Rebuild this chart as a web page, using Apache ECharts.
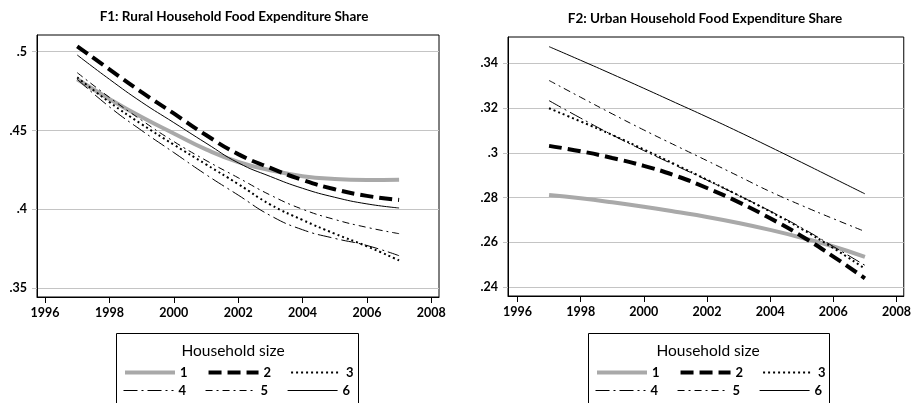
<!DOCTYPE html>
<html>
<head>
<meta charset="utf-8">
<script src="https://cdn.jsdelivr.net/npm/echarts@6/dist/echarts.min.js"></script>
<style>
  html, body { margin: 0; padding: 0; background: #fff; }
</style>
</head>
<body>
<div id="chart" style="width: 914px; height: 403px;"></div>
<script>
// survey years and axis ticks
const years = [1997, 1998, 1999, 2000, 2001, 2002, 2003, 2004, 2005, 2006, 2007]
const yearTicks = [1996, 1998, 2000, 2002, 2004, 2006, 2008]
const ruralTicks = [0.35, 0.4, 0.45, 0.5]
const urbanTicks = [0.24, 0.26, 0.28, 0.3, 0.32, 0.34]
const sizes = ['1', '2', '3', '4', '5', '6']

// F1: rural food expenditure share by household size
const rural1 = [0.4825, 0.4700, 0.4585, 0.4481, 0.4380, 0.4300, 0.4248, 0.4210, 0.4192, 0.4186, 0.4188]
const rural2 = [0.5034, 0.4888, 0.4743, 0.4608, 0.4471, 0.4350, 0.4262, 0.4186, 0.4127, 0.4085, 0.4059]
const rural3 = [0.4837, 0.4680, 0.4540, 0.4410, 0.4285, 0.4160, 0.4030, 0.3932, 0.3845, 0.3765, 0.3675]
const rural4 = [0.4825, 0.4650, 0.4500, 0.4360, 0.4220, 0.4090, 0.3960, 0.3870, 0.3815, 0.3770, 0.3705]
const rural5 = [0.4867, 0.4710, 0.4565, 0.4430, 0.4310, 0.4200, 0.4090, 0.4000, 0.3935, 0.3885, 0.3845]
const rural6 = [0.4979, 0.4825, 0.4680, 0.4550, 0.4420, 0.4295, 0.4208, 0.4133, 0.4076, 0.4034, 0.4008]

// F2: urban food expenditure share by household size
const urban1 = [0.2812, 0.2797, 0.2779, 0.2759, 0.2737, 0.2714, 0.2687, 0.2656, 0.2621, 0.2582, 0.2536]
const urban2 = [0.3031, 0.3007, 0.2977, 0.2942, 0.2898, 0.2843, 0.2780, 0.2708, 0.2628, 0.2537, 0.2440]
const urban3 = [0.3199, 0.3140, 0.3080, 0.3015, 0.2948, 0.2880, 0.2810, 0.2738, 0.2660, 0.2575, 0.2483]
const urban4 = [0.3233, 0.3155, 0.3080, 0.3010, 0.2944, 0.2878, 0.2810, 0.2740, 0.2665, 0.2582, 0.2498]
const urban5 = [0.3323, 0.3248, 0.3174, 0.3102, 0.3033, 0.2965, 0.2896, 0.2827, 0.2765, 0.2706, 0.2649]
const urban6 = [0.3474, 0.3413, 0.3351, 0.3288, 0.3224, 0.3160, 0.3094, 0.3026, 0.2957, 0.2887, 0.2817]

const ruralData = [rural1, rural2, rural3, rural4, rural5, rural6]
const urbanData = [urban1, urban2, urban3, urban4, urban5, urban6]

const FONT = "Lato, 'DejaVu Sans Condensed', sans-serif"

// line look for each household size
const lineStyles = {
  '1': { color: '#a9a9a9', width: 4, type: 'solid' },
  '2': { color: '#000', width: 4, type: [13, 6] },
  '3': { color: '#000', width: 2, type: [2, 3] },
  '4': { color: '#000', width: 1, type: [14, 4, 2, 4] },
  '5': { color: '#000', width: 1, type: [7, 4, 2, 4] },
  '6': { color: '#000', width: 1, type: 'solid' }
}

function makeXAxis (gridIndex, min, max) {
  return {
    type: 'value',
    gridIndex: gridIndex,
    min: min,
    max: max,
    axisLine: { show: true, lineStyle: { color: '#000', width: 1 } },
    axisTick: { show: true, customValues: yearTicks, length: 6, lineStyle: { color: '#000' } },
    axisLabel: {
      customValues: yearTicks,
      color: '#000',
      fontWeight: 'bold',
      fontSize: 12.5,
      fontFamily: FONT,
      margin: 9,
      formatter: v => String(Math.round(v))
    },
    splitLine: { show: false }
  }
}

function makeYAxis (gridIndex, min, max, ticks) {
  return {
    type: 'value',
    gridIndex: gridIndex,
    min: min,
    max: max,
    axisLine: { show: true, lineStyle: { color: '#000', width: 1 } },
    axisTick: { show: true, customValues: ticks, length: 5, lineStyle: { color: '#c4c4c4' } },
    axisLabel: {
      customValues: ticks,
      color: '#000',
      fontWeight: 'bold',
      fontSize: 12.5,
      fontFamily: FONT,
      margin: 10,
      formatter: v => String(Math.round(v * 100) / 100).replace(/^0/, '')
    },
    splitLine: { show: true, lineStyle: { color: '#c4c4c4', width: 1.2 } }
  }
}

function makeSeries (data, gridIndex) {
  return sizes.map((name, i) => ({
    name: name,
    type: 'line',
    xAxisIndex: gridIndex,
    yAxisIndex: gridIndex,
    smooth: true,
    symbol: 'none',
    silent: true,
    lineStyle: lineStyles[name],
    color: lineStyles[name].color,
    data: years.map((y, j) => [y, data[i][j]])
  }))
}

function makeLegend (left, top, names) {
  return {
    left: left,
    top: top,
    orient: 'horizontal',
    padding: 0,
    itemWidth: 50,
    itemHeight: 14,
    itemGap: 19,
    selectedMode: false,
    textStyle: { color: '#000', fontWeight: 'bold', fontSize: 13, fontFamily: FONT },
    data: names.map(n => ({
      name: n,
      lineStyle: { width: lineStyles[n].width },
      itemStyle: { opacity: 0 }
    }))
  }
}

const chart = echarts.init(document.getElementById('chart'), null, { renderer: 'canvas' })

chart.setOption({
  animation: false,
  backgroundColor: '#fff',
  textStyle: { fontFamily: FONT },
  grid: [
    { left: 37, top: 35, width: 402, height: 262, show: true, borderColor: '#000', borderWidth: 1, backgroundColor: '#fff' },
    { left: 508, top: 37, width: 401, height: 259, show: true, borderColor: '#000', borderWidth: 1, backgroundColor: '#fff' }
  ],
  xAxis: [
    makeXAxis(0, 1995.75, 2008.24),
    makeXAxis(1, 1995.7, 2008.23)
  ],
  yAxis: [
    makeYAxis(0, 0.3443, 0.5106, ruralTicks),
    makeYAxis(1, 0.2361, 0.3517, urbanTicks)
  ],
  legend: [
    makeLegend(123, 366, ['1', '2', '3']),
    makeLegend(123, 384, ['4', '5', '6']),
    makeLegend(595, 366, ['1', '2', '3']),
    makeLegend(595, 384, ['4', '5', '6'])
  ],
  graphic: [
    { type: 'text', x: 234, y: 17, style: { text: 'F1: Rural Household Food Expenditure Share', align: 'center', verticalAlign: 'middle', font: 'bold 13.5px ' + FONT, fill: '#000' } },
    { type: 'text', x: 705, y: 19, style: { text: 'F2: Urban Household Food Expenditure Share', align: 'center', verticalAlign: 'middle', font: 'bold 13.5px ' + FONT, fill: '#000' } },
    { type: 'rect', shape: { x: 116.5, y: 333.5, width: 242, height: 100 }, style: { fill: 'none', stroke: '#000', lineWidth: 1 } },
    { type: 'rect', shape: { x: 588.5, y: 333.5, width: 241, height: 100 }, style: { fill: 'none', stroke: '#000', lineWidth: 1 } },
    { type: 'text', x: 233, y: 351, style: { text: 'Household size', align: 'center', verticalAlign: 'middle', font: '15.5px ' + FONT, fill: '#000' } },
    { type: 'text', x: 708, y: 351, style: { text: 'Household size', align: 'center', verticalAlign: 'middle', font: '15.5px ' + FONT, fill: '#000' } }
  ],
  series: makeSeries(ruralData, 0).concat(makeSeries(urbanData, 1))
})
</script>
</body>
</html>
